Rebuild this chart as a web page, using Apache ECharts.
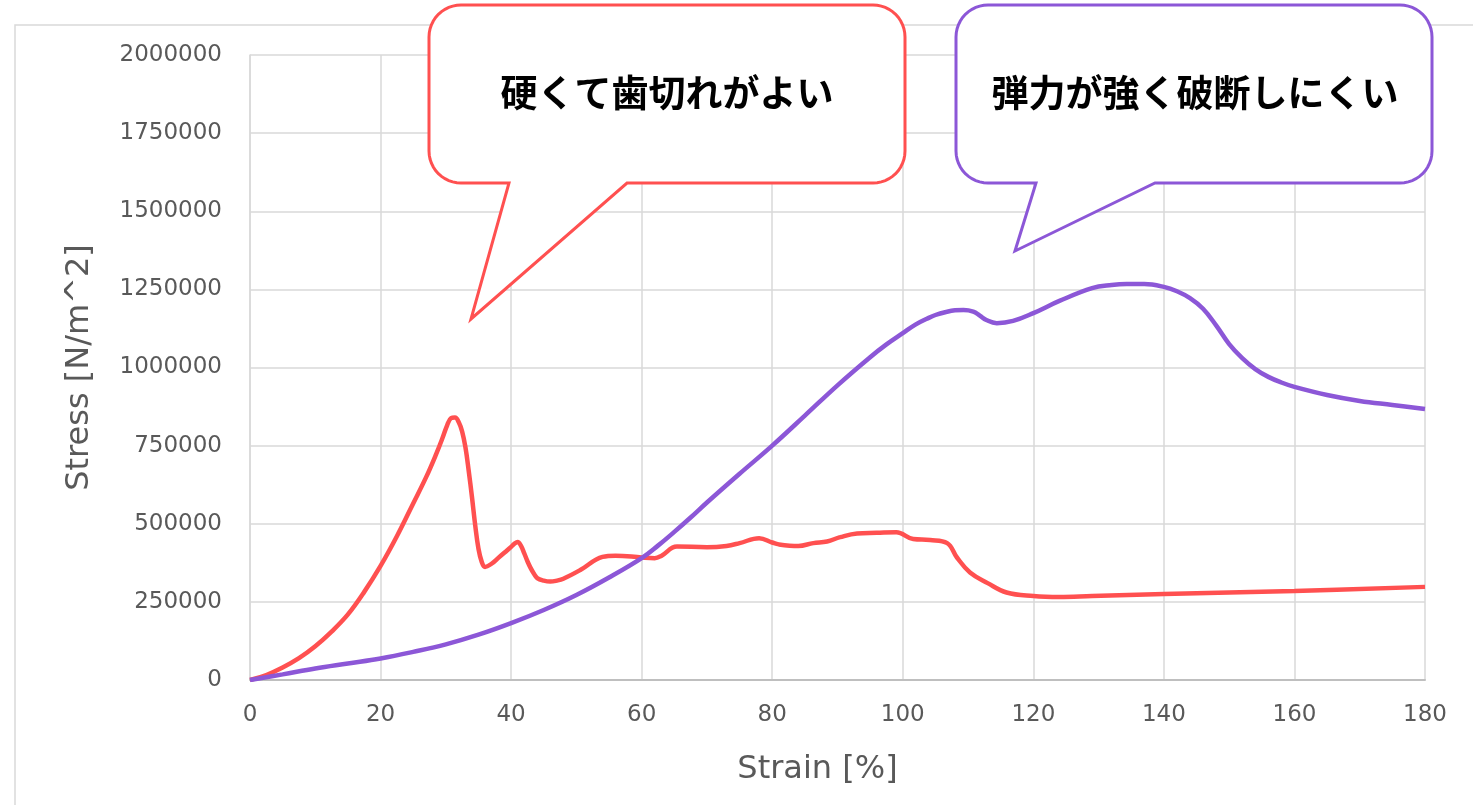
<!DOCTYPE html>
<html>
<head>
<meta charset="utf-8">
<script src="https://cdn.jsdelivr.net/npm/echarts@6/dist/echarts.min.js"></script>
<style>
html,body{margin:0;padding:0;background:#fff;}
#chart{width:1473px;height:805px;}
</style>
</head>
<body>
<div id="chart"></div>
<script>
// Sample A (red): hard, crisp bite
var strainA = [0,2.5,5,7.5,10,12.5,15,17.5,20,22.5,25,27,28.5,29.5,30.2,30.8,31.4,32,32.5,33,33.5,34,34.5,35,35.5,36,37,38,39,40,40.5,41,41.5,42,42.5,43,43.5,44,45,46,47,48,50.6,54,56,60,62,63,65.4,70,73,75,78,80,81,84,86.3,88.4,90.4,93,96,99,101.6,104.2,106.8,108.3,110.3,113,115.9,120,124,129,140,160,180];
var stressA = [0,16000,40000,70000,108000,155000,210000,282000,365000,460000,565000,650000,722000,775000,815000,838000,840000,824000,795000,745000,670000,586000,495000,420000,378000,362000,372000,390000,408000,426000,436000,442000,430000,406000,380000,358000,340000,326000,318000,315000,318000,324000,352000,394000,398000,392000,390000,397000,427000,425000,429000,438000,454000,440000,434000,429000,438000,443000,457000,469000,471000,473000,451000,448000,438000,392000,344000,310000,280000,269000,266000,269000,275000,285000,298000];
// Sample B (purple): elastic, hard to break
var strainB = [0,5,10,15,20,25,30,35,40,45,50,55,60,62.5,65,67.5,70,75,80,85,90,95,97.5,100,102,103.7,105,106.7,108,109.3,110.8,111.8,112.8,114.4,116.9,120,124,129,132,134.3,137,140,142,144,146,148,150,152,154,156,158,160,165,170,175,180];
var stressB = [0,18000,37000,53000,69000,90000,114000,145000,182000,224000,272000,328000,390000,430000,474000,520000,568000,660000,750000,846000,943000,1033000,1074000,1110000,1138000,1156000,1168000,1178000,1183000,1184000,1179000,1166000,1152000,1142000,1149000,1174000,1213000,1254000,1264000,1267000,1267000,1258000,1244000,1222000,1188000,1135000,1075000,1030000,995000,970000,952000,938000,912000,893000,880000,867000];
var seriesNames = ['硬くて歯切れがよい', '弾力が強く破断しにくい'];
var xTicks = {min: 0, max: 180, interval: 20};
var yTicks = {min: 0, max: 2000000, interval: 250000};

function pairs(xs, ys) { return xs.map(function (x, i) { return [x, ys[i]]; }); }

function bubble(x0, y0, x1, y1, r, pl, tipX, tipY, pr) {
  var pts = [];
  function arc(cx, cy, a0, a1) {
    for (var k = 0; k <= 12; k++) {
      var a = (a0 + (a1 - a0) * k / 12) * Math.PI / 180;
      pts.push([cx + r * Math.cos(a), cy + r * Math.sin(a)]);
    }
  }
  arc(x1 - r, y0 + r, -90, 0);
  arc(x1 - r, y1 - r, 0, 90);
  pts.push([pr, y1]); pts.push([tipX, tipY]); pts.push([pl, y1]);
  arc(x0 + r, y1 - r, 90, 180);
  arc(x0 + r, y0 + r, 180, 270);
  return pts;
}

var RED = '#FF5050', PURPLE = '#8C57D7';
var chart = echarts.init(document.getElementById('chart'));
chart.setOption({
  backgroundColor: '#ffffff',
  animation: false,
  grid: {left: 250, right: 48, top: 55, bottom: 125, containLabel: false, outerBoundsMode: 'none'},
  xAxis: {
    type: 'value', min: xTicks.min, max: xTicks.max, interval: xTicks.interval,
    name: 'Strain [%]', nameLocation: 'middle', nameGap: 74,
    nameTextStyle: {fontFamily: 'DejaVu Sans', fontSize: 32, color: '#595959', padding: [0, 40, 0, 0]},
    axisLine: {show: true, lineStyle: {color: '#bfbfbf', width: 2}},
    axisTick: {show: false},
    axisLabel: {fontFamily: 'DejaVu Sans', fontSize: 23, color: '#595959', margin: 24},
    splitLine: {show: true, lineStyle: {color: '#d9d9d9', width: 1.5}}
  },
  yAxis: {
    type: 'value', min: yTicks.min, max: yTicks.max, interval: yTicks.interval,
    name: 'Stress [N/m^2]', nameLocation: 'middle', nameGap: 154, nameRotate: 90,
    nameTextStyle: {fontFamily: 'DejaVu Sans', fontSize: 32, color: '#595959'},
    axisLine: {show: true, lineStyle: {color: '#d9d9d9', width: 1.5}},
    axisTick: {show: false},
    axisLabel: {fontFamily: 'DejaVu Sans', fontSize: 23, color: '#595959', margin: 28,
      formatter: function (v) { return String(v); }},
    splitLine: {show: true, lineStyle: {color: '#d9d9d9', width: 1.5}}
  },
  series: [
    {name: seriesNames[0], type: 'line', data: pairs(strainA, stressA), showSymbol: false, smooth: 0.4,
      lineStyle: {color: RED, width: 4.5}, itemStyle: {color: RED}},
    {name: seriesNames[1], type: 'line', data: pairs(strainB, stressB), showSymbol: false, smooth: 0.4,
      lineStyle: {color: PURPLE, width: 4.5}, itemStyle: {color: PURPLE}}
  ],
  graphic: [
    {type: 'rect', z: -10, silent: true, shape: {x: 15, y: 25, width: 1600, height: 900},
      style: {fill: 'none', stroke: '#d9d9d9', lineWidth: 1.5}},
    {type: 'polygon', z: 100, shape: {points: bubble(429, 5, 905, 183, 32, 509, 471, 319, 627)},
      style: {fill: '#ffffff', stroke: RED, lineWidth: 3}},
    {type: 'text', z: 101, x: 667, y: 93,
      style: {text: seriesNames[0], fontFamily: 'Noto Sans CJK JP', fontWeight: 'bold', fontSize: 37,
        fill: '#000000', textAlign: 'center', textVerticalAlign: 'middle', align: 'center', verticalAlign: 'middle'}},
    {type: 'polygon', z: 100, shape: {points: bubble(956, 5, 1432, 183, 32, 1036, 1015, 251, 1155)},
      style: {fill: '#ffffff', stroke: PURPLE, lineWidth: 3}},
    {type: 'text', z: 101, x: 1195, y: 93,
      style: {text: seriesNames[1], fontFamily: 'Noto Sans CJK JP', fontWeight: 'bold', fontSize: 37,
        fill: '#000000', textAlign: 'center', textVerticalAlign: 'middle', align: 'center', verticalAlign: 'middle'}}
  ]
});
</script>
</body>
</html>
